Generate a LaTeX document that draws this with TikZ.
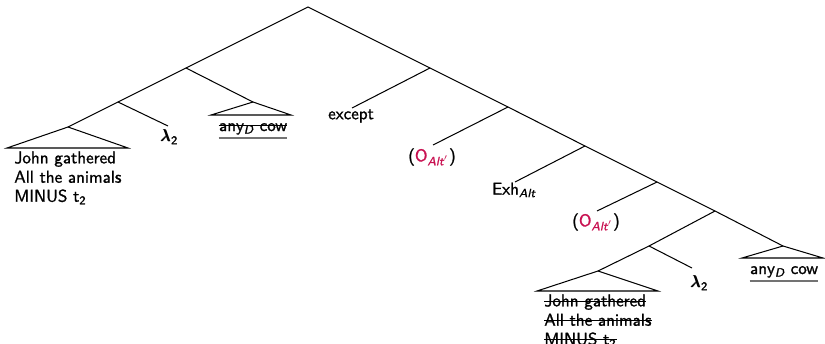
\documentclass[tikz,border=0pt]{standalone}
\usepackage{amsmath}
\usepackage[no-math]{fontspec}
\setsansfont{Latin Modern Sans}[FakeBold=1.2]
\renewcommand{\familydefault}{\sfdefault}
\definecolor{crim}{RGB}{200,16,80}
\newcommand{\blam}{\mbox{\rlap{$\lambda$}\kern0.35pt\rlap{$\lambda$}\kern0.35pt$\lambda$}}
\begin{document}
\begin{tikzpicture}[x=0.585pt,y=-0.585pt,
  edge/.style={line width=0.6pt},
  lbl/.style={inner sep=0pt,font=\sffamily},
  row/.style={inner sep=0pt,font=\sffamily,anchor=base west},
  strike/.style={line width=0.65pt},
  gline/.style={draw=black!55,line width=1.1pt}]
\useasboundingbox (0,0) rectangle (825,343);
% internal nodes
\coordinate (R) at (308,7);
\coordinate (A) at (186,68);
\coordinate (B) at (430,68);
\coordinate (A1) at (118,102);
\coordinate (A2) at (253,102);
\coordinate (C) at (508,107);
\coordinate (D) at (585,146);
\coordinate (E) at (657,182);
\coordinate (F) at (715,211);
\coordinate (G) at (649,246);
\coordinate (T1) at (68,127);
\coordinate (T2) at (598,271);
\coordinate (T3) at (783,246);
% free ends of leaf branches
\coordinate (eLamA) at (168,126);
\coordinate (eExc) at (352,108);
\coordinate (eO1) at (433,145);
\coordinate (eExh) at (515,182);
\coordinate (eO2) at (597,211);
\coordinate (eLamB) at (692,268);
% triangle corners
\coordinate (T1l) at (7,148); \coordinate (T1r) at (128,148);
\coordinate (A2l) at (211,115); \coordinate (A2r) at (291,115);
\coordinate (T2l) at (537,291); \coordinate (T2r) at (658,291);
\coordinate (T3l) at (742,258); \coordinate (T3r) at (823,258);
% edges
\draw[edge] (A) -- (R) -- (B);
\draw[edge] (A1) -- (A) -- (A2);
\draw[edge] (T1) -- (A1) -- (eLamA);
\draw[edge] (eExc) -- (B) -- (C);
\draw[edge] (eO1) -- (C) -- (D);
\draw[edge] (eExh) -- (D) -- (E);
\draw[edge] (eO2) -- (E) -- (F);
\draw[edge] (G) -- (F) -- (T3);
\draw[edge] (T2) -- (G) -- (eLamB);
% triangles
\draw[edge] (T1) -- (T1l) -- (T1r) -- cycle;
\draw[edge] (A2) -- (A2l) -- (A2r) -- cycle;
\draw[edge] (T2) -- (T2l) -- (T2r) -- cycle;
\draw[edge] (T3) -- (T3l) -- (T3r) -- cycle;
% labels
\node[lbl] (lamA) at (169,137) {\blam\textsubscript{2}};
\node[lbl] (exc) at (351,116) {except};
\node[lbl] (o1) at (432,157) {(\textcolor{crim}{O\textsubscript{\itshape Alt$'$}})};
\node[lbl] (exh) at (514,190) {Exh\textsubscript{\itshape Alt}};
\node[lbl] (o2) at (596,222) {(\textcolor{crim}{O\textsubscript{\itshape Alt$'$}})};
\node[lbl] (lamB) at (699,283) {\blam\textsubscript{2}};
% roof texts
\node[lbl,anchor=base] (anyA) at (253,131) {any\textsubscript{\itshape D} cow};
\draw[strike] ([yshift=3pt]anyA.base west) -- ([yshift=3pt]anyA.base east);
\draw[gline] ([yshift=-4pt]anyA.base west) -- ([yshift=-4pt]anyA.base east);
\node[lbl,anchor=base] (anyB) at (784,274) {any\textsubscript{\itshape D} cow};
\draw[gline] ([yshift=-4pt]anyB.base west) -- ([yshift=-4pt]anyB.base east);
\node[row] (a1) at (14,163.3) {John gathered};
\node[row] (a2) at (14,182.7) {All the animals};
\node[row] (a3) at (14,201.7) {MINUS t\textsubscript{2}};
\node[row] (b1) at (544,306.3) {John gathered};
\node[row] (b2) at (544,325.7) {All the animals};
\node[row] (b3) at (544,344.7) {MINUS t\textsubscript{2}};
\foreach \n in {b1,b2,b3}
  \draw[strike] ([yshift=3pt]\n.base west) -- ([yshift=3pt]\n.base east);
\end{tikzpicture}
\end{document}
